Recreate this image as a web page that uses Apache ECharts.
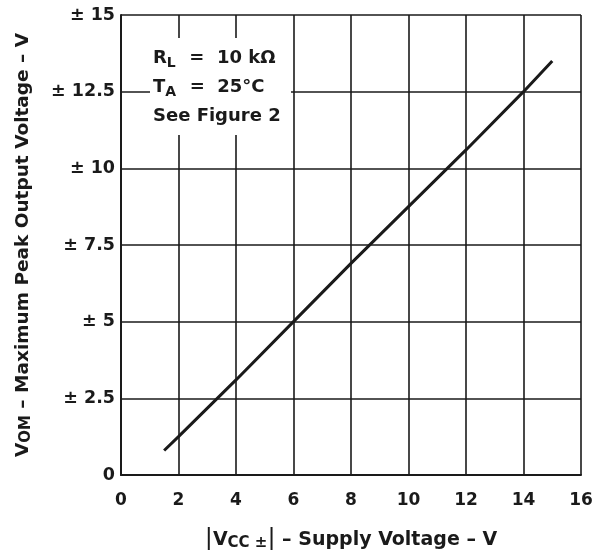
<!DOCTYPE html>
<html>
<head>
<meta charset="utf-8">
<script src="https://cdn.jsdelivr.net/npm/echarts@6/dist/echarts.min.js"></script>
<style>html,body{margin:0;padding:0;background:#fff;}#c{width:594px;height:550px;}</style>
</head>
<body>
<div id="c"></div>
<script>
var supplyV = [1.5, 2, 4, 6, 8, 10, 12, 14, 15];
var vomPeak = [0.8, 1.25, 3.1, 5.0, 6.9, 8.75, 10.6, 12.5, 13.5];
var yTickValues = [0, 2.5, 5, 7.5, 10, 12.5, 15];
var yTickLabels = ['0', '± 2.5', '± 5', '± 7.5', '± 10', '± 12.5', '± 15'];
var xTickLabels = ['0', '2', '4', '6', '8', '10', '12', '14', '16'];

var FONT = 'DejaVu Sans, Verdana, sans-serif';
var INK = '#1a1a1a';
var chart = echarts.init(document.getElementById('c'), null, {renderer: 'canvas'});
var pts = supplyV.map(function (x, i) { return [x, vomPeak[i]]; });

chart.setOption({
  backgroundColor: '#ffffff',
  animation: false,
  grid: {left: 121, right: 13, top: 15, bottom: 75, containLabel: false, outerBoundsMode: 'none'},
  xAxis: {
    type: 'value', min: 0, max: 16, interval: 2,
    axisLine: {show: true, onZero: false, lineStyle: {color: INK, width: 2}},
    axisTick: {show: false},
    splitLine: {show: true, lineStyle: {color: INK, width: 1.6}},
    axisLabel: {
      color: INK, fontFamily: FONT, fontWeight: 'bold', fontSize: 17, margin: 17,
      formatter: function (v) { var i = Math.round(v / 2); return xTickLabels[i] !== undefined ? xTickLabels[i] : ''; }
    },
    name: '{t||}{b|V}{s|CC ±}{t||}{b| – Supply Voltage – V}',
    nameLocation: 'middle', nameGap: 53,
    nameTextStyle: {
      rich: {
        b: {fontFamily: FONT, fontWeight: 'bold', fontSize: 19, color: INK},
        t: {fontFamily: FONT, fontWeight: 'normal', fontSize: 24, color: INK},
        s: {fontFamily: FONT, fontWeight: 'bold', fontSize: 15, color: INK, padding: [7, 0, 0, 0]}
      }
    }
  },
  yAxis: {
    type: 'value', min: 0, max: 15, interval: 2.5,
    axisLine: {show: true, onZero: false, lineStyle: {color: INK, width: 2}},
    axisTick: {show: false},
    splitLine: {show: true, lineStyle: {color: INK, width: 1.6}},
    axisLabel: {
      color: INK, fontFamily: FONT, fontWeight: 'bold', fontSize: 17.5, margin: 6,
      formatter: function (v) {
        for (var i = 0; i < yTickValues.length; i++) { if (Math.abs(yTickValues[i] - v) < 1e-6) return yTickLabels[i]; }
        return '';
      }
    },
    name: '{b|V}{s|OM}{b| – Maximum Peak Output Voltage – V}',
    nameLocation: 'middle', nameGap: 87, nameRotate: 90,
    nameTextStyle: {
      rich: {
        b: {fontFamily: FONT, fontWeight: 'bold', fontSize: 18.5, color: INK},
        s: {fontFamily: FONT, fontWeight: 'bold', fontSize: 15, color: INK, padding: [6, 0, 0, 0]}
      }
    }
  },
  graphic: [
    {type: 'rect', left: 150, top: 38, shape: {width: 141, height: 97}, style: {fill: '#ffffff'}, z: 10},
    {type: 'text', left: 153, top: 47, z: 11, style: {
      text: '{b|R}{s|L}{b|  =  10 kΩ}\n{b|T}{s|A}{b|  =  25°C}\n{b|See Figure 2}',
      rich: {
        b: {fontFamily: FONT, fontWeight: 'bold', fontSize: 18, fill: INK, lineHeight: 29},
        s: {fontFamily: FONT, fontWeight: 'bold', fontSize: 14, fill: INK, lineHeight: 29, padding: [9, 1, 0, 0]}
      }
    }}
  ],
  series: [{
    type: 'line', data: pts, showSymbol: false, smooth: false, z: 5,
    lineStyle: {color: INK, width: 3}
  }]
});
</script>
</body>
</html>
